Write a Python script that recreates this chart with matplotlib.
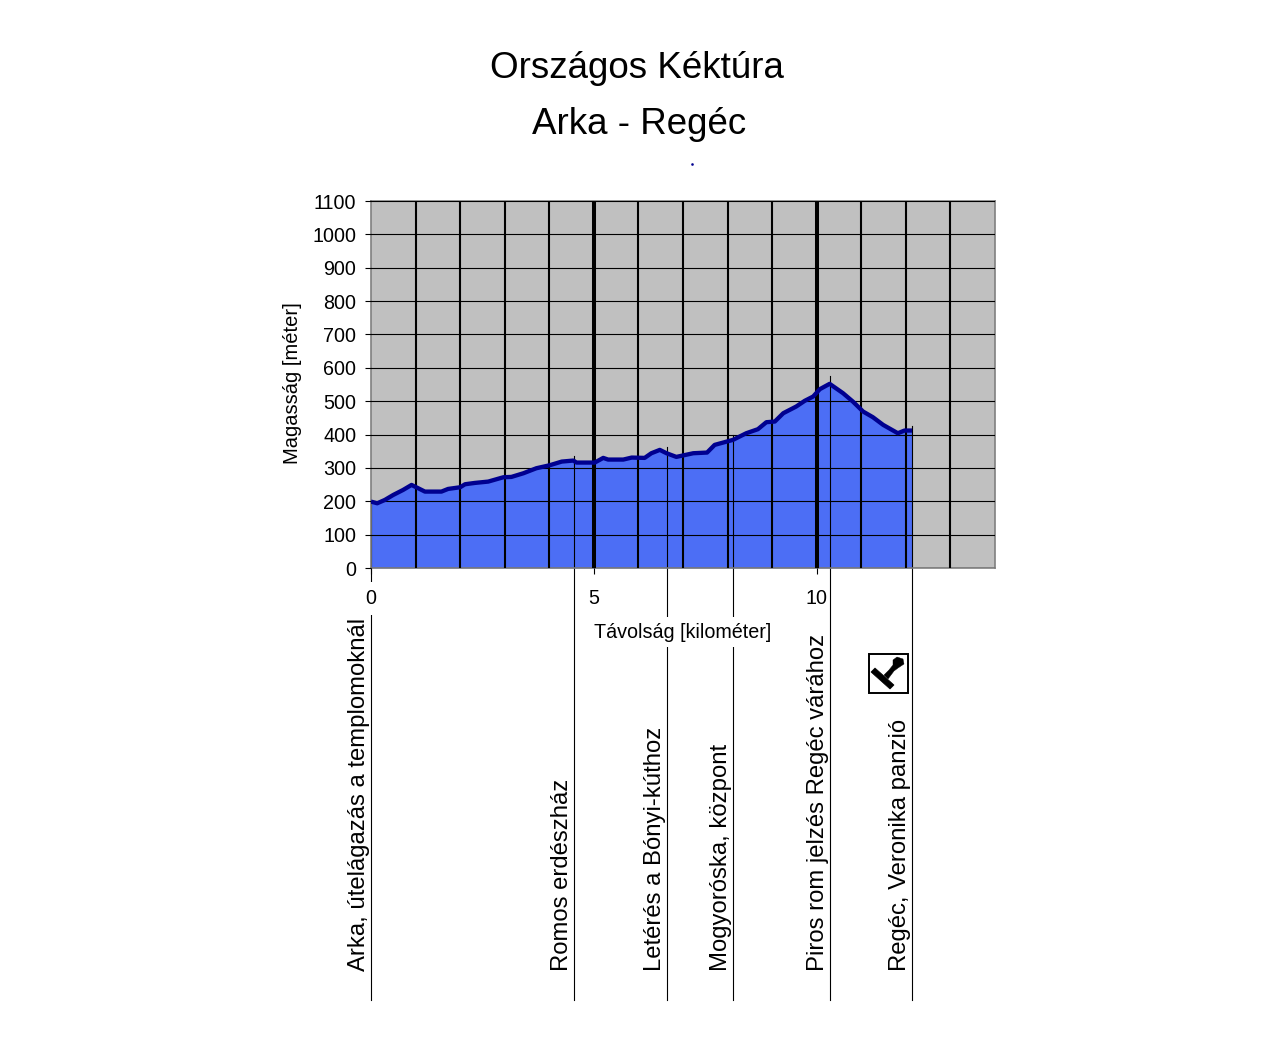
import matplotlib
matplotlib.use('Agg')
import matplotlib.pyplot as plt
from matplotlib.patches import Polygon, Rectangle

plt.rcParams['font.family'] = ['Liberation Sans', 'DejaVu Sans']

W, H = 1280, 1050

# profile
km = [0, 0.14, 0.31, 0.5, 0.72, 0.91, 1.06, 1.21, 1.58, 1.73, 2.0, 2.11, 2.33, 2.63, 2.97,
      3.15, 3.42, 3.71, 4.01, 4.28, 4.54, 4.61, 5.02, 5.21, 5.32, 5.66, 5.85, 6.14, 6.29,
      6.48, 6.63, 6.85, 7.23, 7.54, 7.71, 8.12, 8.42, 8.68, 8.87, 9.06, 9.25, 9.54, 9.73,
      9.92, 10.07, 10.29, 10.59, 10.81, 11.04, 11.26, 11.49, 11.82, 11.97, 12.14]
elevation = [199, 194, 204, 219, 234, 249, 239, 229, 229, 237, 242, 251, 255, 259, 272,
             273, 284, 299, 308, 319, 322, 316, 316, 330, 325, 325, 331, 330, 344,
             354, 344, 333, 344, 346, 369, 384, 404, 416, 437, 439, 464, 484, 501,
             514, 536, 552, 524, 499, 469, 452, 429, 404, 412, 412]

station_km = [0, 4.55, 6.64, 8.12, 10.3, 12.14]
station_top = [200, 335, 362, 398, 575, 425]
station_names = ['Arka, útelágazás a templomoknál', 'Romos erdészház', 'Letérés a Bónyi-kúthoz',
                 'Mogyoróska, központ', 'Piros rom jelzés Regéc várához', 'Regéc, Veronika panzió']

y_ticks = list(range(0, 1101, 100))
x_major = [0, 5, 10]
x_minor = [1, 2, 3, 4, 6, 7, 8, 9, 11, 12, 13]

fig = plt.figure(figsize=(W / 100, H / 100), dpi=100, facecolor='white')

# plot area in pixels: x 371-995, y 201-568
ax = fig.add_axes([371 / W, 1 - 568 / H, (995 - 371) / W, (568 - 201) / H])
ax.set_xlim(0, 14)
ax.set_ylim(0, 1100)
ax.set_facecolor('#c0c0c0')

ax.fill_between(km, elevation, 0, color='#4c6ef5', lw=0, zorder=1)
ax.set_xticks(x_major)
ax.set_xticks(x_minor, minor=True)
ax.set_yticks(y_ticks)
ax.grid(True, axis='y', color='black', lw=0.8, zorder=2)
ax.set_axisbelow(False)
ax.xaxis.grid(True, which='major', color='black', lw=2.9, zorder=2)
ax.xaxis.grid(True, which='minor', color='black', lw=1.5, zorder=2)
ax.xaxis.get_major_ticks()[0].gridline.set_visible(False)
ax.plot(km, elevation, color='#000090', lw=3.1, zorder=3, solid_capstyle='butt')

ax.tick_params(axis='y', length=4, width=0.8, pad=6.5, labelsize=14.2)
ax.tick_params(axis='x', which='major', length=4, width=0.8, pad=11, labelsize=14.2)
ax.tick_params(axis='x', which='minor', length=0)
for side in ax.spines.values():
    side.set_color('#808080')
    side.set_linewidth(1.2)

# the labels blank out the station lines behind them
ax.get_xticklabels()[0].set_bbox(dict(fc='white', ec='none', pad=5))

# station lines and their labels hang below the axis
y_bottom = -(1000 - 568) / (568 - 201) * 1100
for x, top, name in zip(station_km, station_top, station_names):
    ax.plot([x, x], [y_bottom, top], color='black', lw=0.8, zorder=2.4, clip_on=False)
    px = 371 + x * (995 - 371) / 14
    fig.text((px - 12) / W, 1 - 971 / H, name, rotation=90, ha='center', va='bottom', fontsize=17.2)

fig.text(683 / W, 1 - 632 / H, 'Távolság [kilométer]', ha='center', va='center', fontsize=14.2,
         bbox=dict(fc='white', ec='none', pad=4))
fig.text(292 / W, 1 - 383 / H, 'Magasság [méter]', rotation=90, ha='center', va='center', fontsize=14.5)
fig.text(637 / W, 1 - 69 / H, 'Országos Kéktúra', ha='center', va='center', fontsize=26.5)
fig.text(639 / W, 1 - 124 / H, 'Arka - Regéc', ha='center', va='center', fontsize=26.5)

# overlay in pixel coordinates for the stamp icon
over = fig.add_axes([0, 0, 1, 1], facecolor='none')
over.set_xlim(0, W)
over.set_ylim(H, 0)
over.axis('off')
over.add_patch(Rectangle((869, 654), 38.5, 38.5, fc='white', ec='black', lw=1.4))
over.add_patch(Polygon([(871, 672), (875, 668), (894, 685), (890, 689)], fc='black', ec='black', lw=0.5))
over.add_patch(Polygon([(884, 675), (889, 670), (893, 665), (893, 660), (897, 657), (903, 659),
                        (904, 664), (898, 668), (894, 671), (888, 679)], fc='black', ec='black', lw=0.3))
over.plot([692], [164], marker='s', ms=0.8, color='#000090', lw=0)

fig.savefig('out.png', dpi=100)
